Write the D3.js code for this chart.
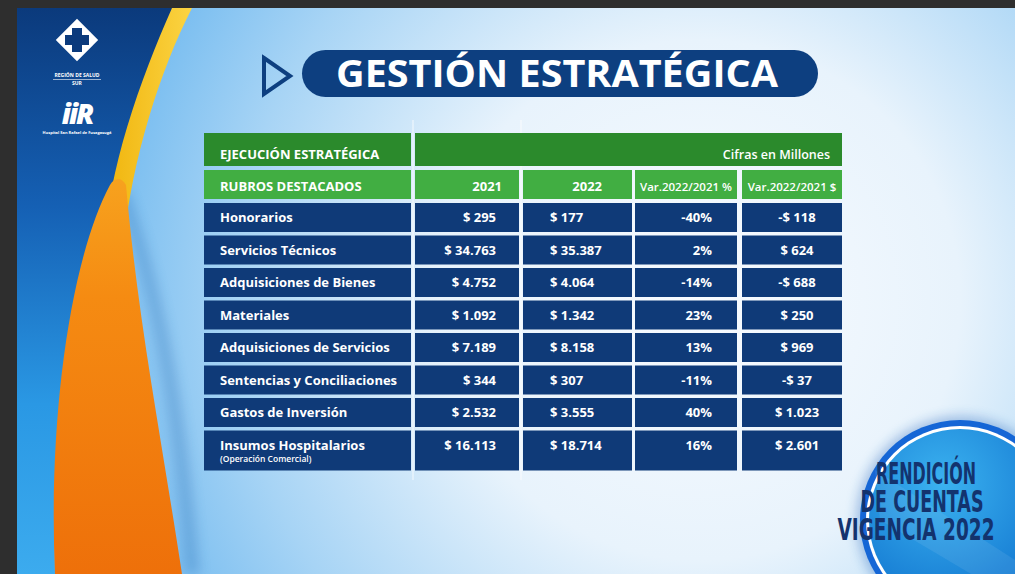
<!DOCTYPE html>
<html>
<head>
<meta charset="utf-8">
<script src="https://cdn.jsdelivr.net/npm/d3@7"></script>
<style>
  body { margin: 0; background: #2e2e2e; }
  svg { display: block; }
</style>
</head>
<body>
<script>
// datos de la tabla (cifras en millones)
const rubros = ["Honorarios", "Servicios Técnicos", "Adquisiciones de Bienes", "Materiales",
  "Adquisiciones de Servicios", "Sentencias y Conciliaciones", "Gastos de Inversión", "Insumos Hospitalarios"];
const notas = ["", "", "", "", "", "", "", "(Operación Comercial)"];
const v2021 = [295, 34763, 4752, 1092, 7189, 344, 2532, 16113];
const v2022 = [177, 35387, 4064, 1342, 8158, 307, 3555, 18714];
const varPct = [-40, 2, -14, 23, 13, -11, 40, 16];
const varAbs = [-118, 624, -688, 250, 969, -37, 1023, 2601];
const encabezados = ["RUBROS DESTACADOS", "2021", "2022", "Var.2022/2021 %", "Var.2022/2021 $"];
const titulo = "GESTIÓN ESTRATÉGICA";
const insignia = ["RENDICIÓN", "DE CUENTAS", "VIGENCIA 2022"];

let width = 1015, height = 574;
const font = "'Open Sans', sans-serif";

const loc = d3.formatLocale({decimal: ",", thousands: ".", grouping: [3], currency: ["$ ", ""], minus: "-"});
const fmtMoney = loc.format("$,.0f");
const fmtPct = d => d + "%";

let svg = d3.select("body").append("svg")
  .attr("width", width).attr("height", height);

const defs = svg.append("defs");

// fondo
const bg = defs.append("radialGradient").attr("id", "bg")
  .attr("gradientUnits", "userSpaceOnUse").attr("cx", 700).attr("cy", 300).attr("r", 650);
bg.append("stop").attr("offset", "0%").attr("stop-color", "#f8fbff");
bg.append("stop").attr("offset", "40%").attr("stop-color", "#e8f3fc");
bg.append("stop").attr("offset", "72%").attr("stop-color", "#a7d4f5");
bg.append("stop").attr("offset", "100%").attr("stop-color", "#66b4ee");

const side = defs.append("linearGradient").attr("id", "side").attr("x1", 0).attr("y1", 0).attr("x2", 0).attr("y2", 1);
side.append("stop").attr("offset", "0%").attr("stop-color", "#0b3a7c");
side.append("stop").attr("offset", "35%").attr("stop-color", "#1560b4");
side.append("stop").attr("offset", "70%").attr("stop-color", "#2a98e4");
side.append("stop").attr("offset", "100%").attr("stop-color", "#3cabee");

const orange = defs.append("linearGradient").attr("id", "orange").attr("x1", 0).attr("y1", 0).attr("x2", 0).attr("y2", 1);
orange.append("stop").attr("offset", "0%").attr("stop-color", "#f7a21e");
orange.append("stop").attr("offset", "30%").attr("stop-color", "#f58b12");
orange.append("stop").attr("offset", "100%").attr("stop-color", "#ee700a");

const yellow = defs.append("linearGradient").attr("id", "yellow").attr("x1", 0).attr("y1", 0).attr("x2", 1).attr("y2", 0);
yellow.append("stop").attr("offset", "0%").attr("stop-color", "#f0b40c");
yellow.append("stop").attr("offset", "100%").attr("stop-color", "#fbd443");

const badge = defs.append("radialGradient").attr("id", "badge").attr("cx", "40%").attr("cy", "30%").attr("r", "80%");
badge.append("stop").attr("offset", "0%").attr("stop-color", "#3bb2f0");
badge.append("stop").attr("offset", "100%").attr("stop-color", "#0d6fcc");

const shadow = defs.append("filter").attr("id", "soft").attr("x", "-30%").attr("y", "-30%").attr("width", "160%").attr("height", "160%");
shadow.append("feGaussianBlur").attr("stdDeviation", 6);

svg.append("rect").attr("x", 0).attr("y", 0).attr("width", width).attr("height", height).attr("fill", "#2e2e2e");
svg.append("rect").attr("x", 17).attr("y", 8).attr("width", width - 17).attr("height", height - 8).attr("fill", "url(#bg)");

// decoracion izquierda
const deco = svg.append("g");
deco.append("path")
  .attr("d", "M17,8 L180,8 C150,70 118,160 110,230 C70,300 50,440 55,574 L17,574 Z")
  .attr("fill", "url(#side)");
deco.append("path")
  .attr("d", "M118,200 C160,320 175,450 185,574 L200,574 C190,450 175,320 128,190 Z")
  .attr("fill", "#1d5fa8").attr("opacity", 0.25).attr("filter", "url(#soft)");
deco.append("path")
  .attr("d", "M172,8 L192,8 C160,70 132,160 124,240 L104,250 C108,170 140,80 172,8 Z")
  .attr("fill", "url(#yellow)");
deco.append("path")
  .attr("d", "M110,185 C70,260 48,420 55,574 L182,574 C160,430 138,320 126,185 C121,176 114,178 110,185 Z")
  .attr("fill", "url(#orange)");

// logos
const logo = svg.append("g").attr("fill", "#ffffff");
logo.append("rect").attr("x", -15).attr("y", -15).attr("width", 30).attr("height", 30)
  .attr("transform", "translate(77,40) rotate(45)");
logo.append("rect").attr("x", 72).attr("y", 28).attr("width", 10).attr("height", 24).attr("fill", "#0b3a7c");
logo.append("rect").attr("x", 65).attr("y", 35).attr("width", 24).attr("height", 10).attr("fill", "#0b3a7c");
logo.append("text").attr("x", 77).attr("y", 77).attr("text-anchor", "middle")
  .attr("font-family", font).attr("font-weight", 700).attr("font-size", 5).text("REGIÓN DE SALUD");
logo.append("rect").attr("x", 53).attr("y", 79).attr("width", 48).attr("height", 0.6);
logo.append("text").attr("x", 77).attr("y", 85).attr("text-anchor", "middle")
  .attr("font-family", font).attr("font-weight", 700).attr("font-size", 5).text("SUR");
logo.append("text").attr("x", 77).attr("y", 124).attr("text-anchor", "middle")
  .attr("font-family", font).attr("font-weight", 800).attr("font-style", "italic").attr("font-size", 28)
  .attr("letter-spacing", -2).text("iiR");
logo.append("text").attr("x", 77).attr("y", 134).attr("text-anchor", "middle")
  .attr("font-family", font).attr("font-weight", 700).attr("font-size", 4).text("Hospital San Rafael de Fusagasugá");

// titulo
svg.append("path").attr("d", "M264,58 L290,76 L264,94 Z")
  .attr("fill", "none").attr("stroke", "#0d3f80").attr("stroke-width", 4).attr("stroke-linejoin", "miter");
svg.append("rect").attr("x", 302).attr("y", 50).attr("width", 516).attr("height", 47).attr("rx", 23.5)
  .attr("fill", "#0d3f80");
svg.append("text").attr("x", 336).attr("y", 87)
  .attr("font-family", font).attr("font-weight", 700).attr("font-size", 38).attr("fill", "#ffffff")
  .attr("textLength", 442).attr("lengthAdjust", "spacingAndGlyphs").text(titulo);

// tabla
const cols = [
  {x: 204, w: 207}, {x: 415, w: 104}, {x: 523, w: 109}, {x: 635, w: 102}, {x: 742, w: 100}
];
const y = d3.scaleLinear().domain([0, rubros.length]).range([203, 203 + rubros.length * 32.5]);
const rowH = i => notas[i] ? 40 : 29;

const tabla = svg.append("g");

// lineas tenues de la reticula
tabla.selectAll("line.grid").data([413, 521]).join("line").attr("class", "grid")
  .attr("x1", d => d).attr("x2", d => d).attr("y1", 120).attr("y2", 480)
  .attr("stroke", "#ffffff").attr("stroke-width", 2).attr("opacity", 0.4);

// encabezado 1
tabla.append("rect").attr("x", cols[0].x).attr("y", 133).attr("width", cols[0].w).attr("height", 33).attr("fill", "#2b8a2c");
tabla.append("rect").attr("x", cols[1].x).attr("y", 133).attr("width", cols[4].x + cols[4].w - cols[1].x).attr("height", 33).attr("fill", "#2b8a2c");
tabla.append("text").attr("x", 220).attr("y", 159)
  .attr("font-family", font).attr("font-weight", 700).attr("font-size", 13).attr("fill", "#ffffff")
  .text("EJECUCIÓN ESTRATÉGICA");
tabla.append("text").attr("x", 830).attr("y", 159).attr("text-anchor", "end")
  .attr("font-family", font).attr("font-weight", 600).attr("font-size", 12.5).attr("fill", "#ffffff")
  .text("Cifras en Millones");

// encabezado 2
const headX = [220, 502, 602, 686, 792];
const headAnchor = ["start", "end", "end", "middle", "middle"];
const headSize = [13, 13, 13, 11.5, 11.5];
tabla.selectAll("rect.h2").data(encabezados).join("rect").attr("class", "h2")
  .attr("x", (d, i) => cols[i].x).attr("y", 170).attr("width", (d, i) => cols[i].w).attr("height", 29)
  .attr("fill", "#41ae42");
tabla.selectAll("text.h2").data(encabezados).join("text").attr("class", "h2")
  .attr("x", (d, i) => headX[i]).attr("y", 191).attr("text-anchor", (d, i) => headAnchor[i])
  .attr("font-family", font).attr("font-weight", (d, i) => i < 3 ? 700 : 600)
  .attr("font-size", (d, i) => headSize[i]).attr("fill", "#ffffff")
  .text(d => d);

// filas
const filas = rubros.map((r, i) => ({
  i: i,
  celdas: [r, fmtMoney(v2021[i]), fmtMoney(v2022[i]), fmtPct(varPct[i]), fmtMoney(varAbs[i])]
}));
const cellX = [220, 496, 550, 712, 797];
const cellAnchor = ["start", "end", "start", "end", "middle"];

const fila = tabla.selectAll("g.fila").data(filas).join("g").attr("class", "fila")
  .attr("transform", d => `translate(0,${y(d.i)})`);

fila.selectAll("rect").data(d => d.celdas.map((c, j) => ({c: c, j: j, h: rowH(d.i)}))).join("rect")
  .attr("x", d => cols[d.j].x).attr("y", 0).attr("width", d => cols[d.j].w).attr("height", d => d.h)
  .attr("fill", "#0f3a78");

fila.selectAll("text.val").data(d => d.celdas.map((c, j) => ({c: c, j: j}))).join("text").attr("class", "val")
  .attr("x", d => cellX[d.j]).attr("y", 19).attr("text-anchor", d => cellAnchor[d.j])
  .attr("font-family", font).attr("font-weight", 700).attr("font-size", 13).attr("fill", "#ffffff")
  .text(d => d.c);

fila.filter(d => notas[d.i]).append("text")
  .attr("x", 220).attr("y", 31)
  .attr("font-family", font).attr("font-weight", 600).attr("font-size", 8.5).attr("fill", "#ffffff")
  .text(d => notas[d.i]);

// insignia
const ins = svg.append("g");
ins.append("circle").attr("cx", 960).attr("cy", 520).attr("r", 104).attr("fill", "#1f5fb8").attr("opacity", 0.35).attr("filter", "url(#soft)");
ins.append("circle").attr("cx", 960).attr("cy", 520).attr("r", 100).attr("fill", "#1566d6");
ins.append("circle").attr("cx", 960).attr("cy", 520).attr("r", 94).attr("fill", "#ffffff");
ins.append("circle").attr("cx", 960).attr("cy", 520).attr("r", 91).attr("fill", "url(#badge)");
ins.append("path").attr("d", "M875,470 L1015,560 L1015,600 L880,520 Z").attr("fill", "#ffffff").attr("opacity", 0.08);
const insX = [926, 922, 916];
const insW = [100, 123, 157];
ins.selectAll("g.lin").data(insignia).join("g").attr("class", "lin")
  .attr("transform", (d, i) => `translate(${insX[i]},${484 + i * 28}) scale(1,1.3)`)
  .append("text")
  .attr("text-anchor", "middle")
  .attr("font-family", "'Liberation Sans Narrow', 'DejaVu Sans Condensed', sans-serif")
  .attr("font-weight", 700).attr("font-size", 23).attr("fill", "#13336e")
  .attr("textLength", (d, i) => insW[i]).attr("lengthAdjust", "spacingAndGlyphs")
  .text(d => d);
</script>
</body>
</html>
